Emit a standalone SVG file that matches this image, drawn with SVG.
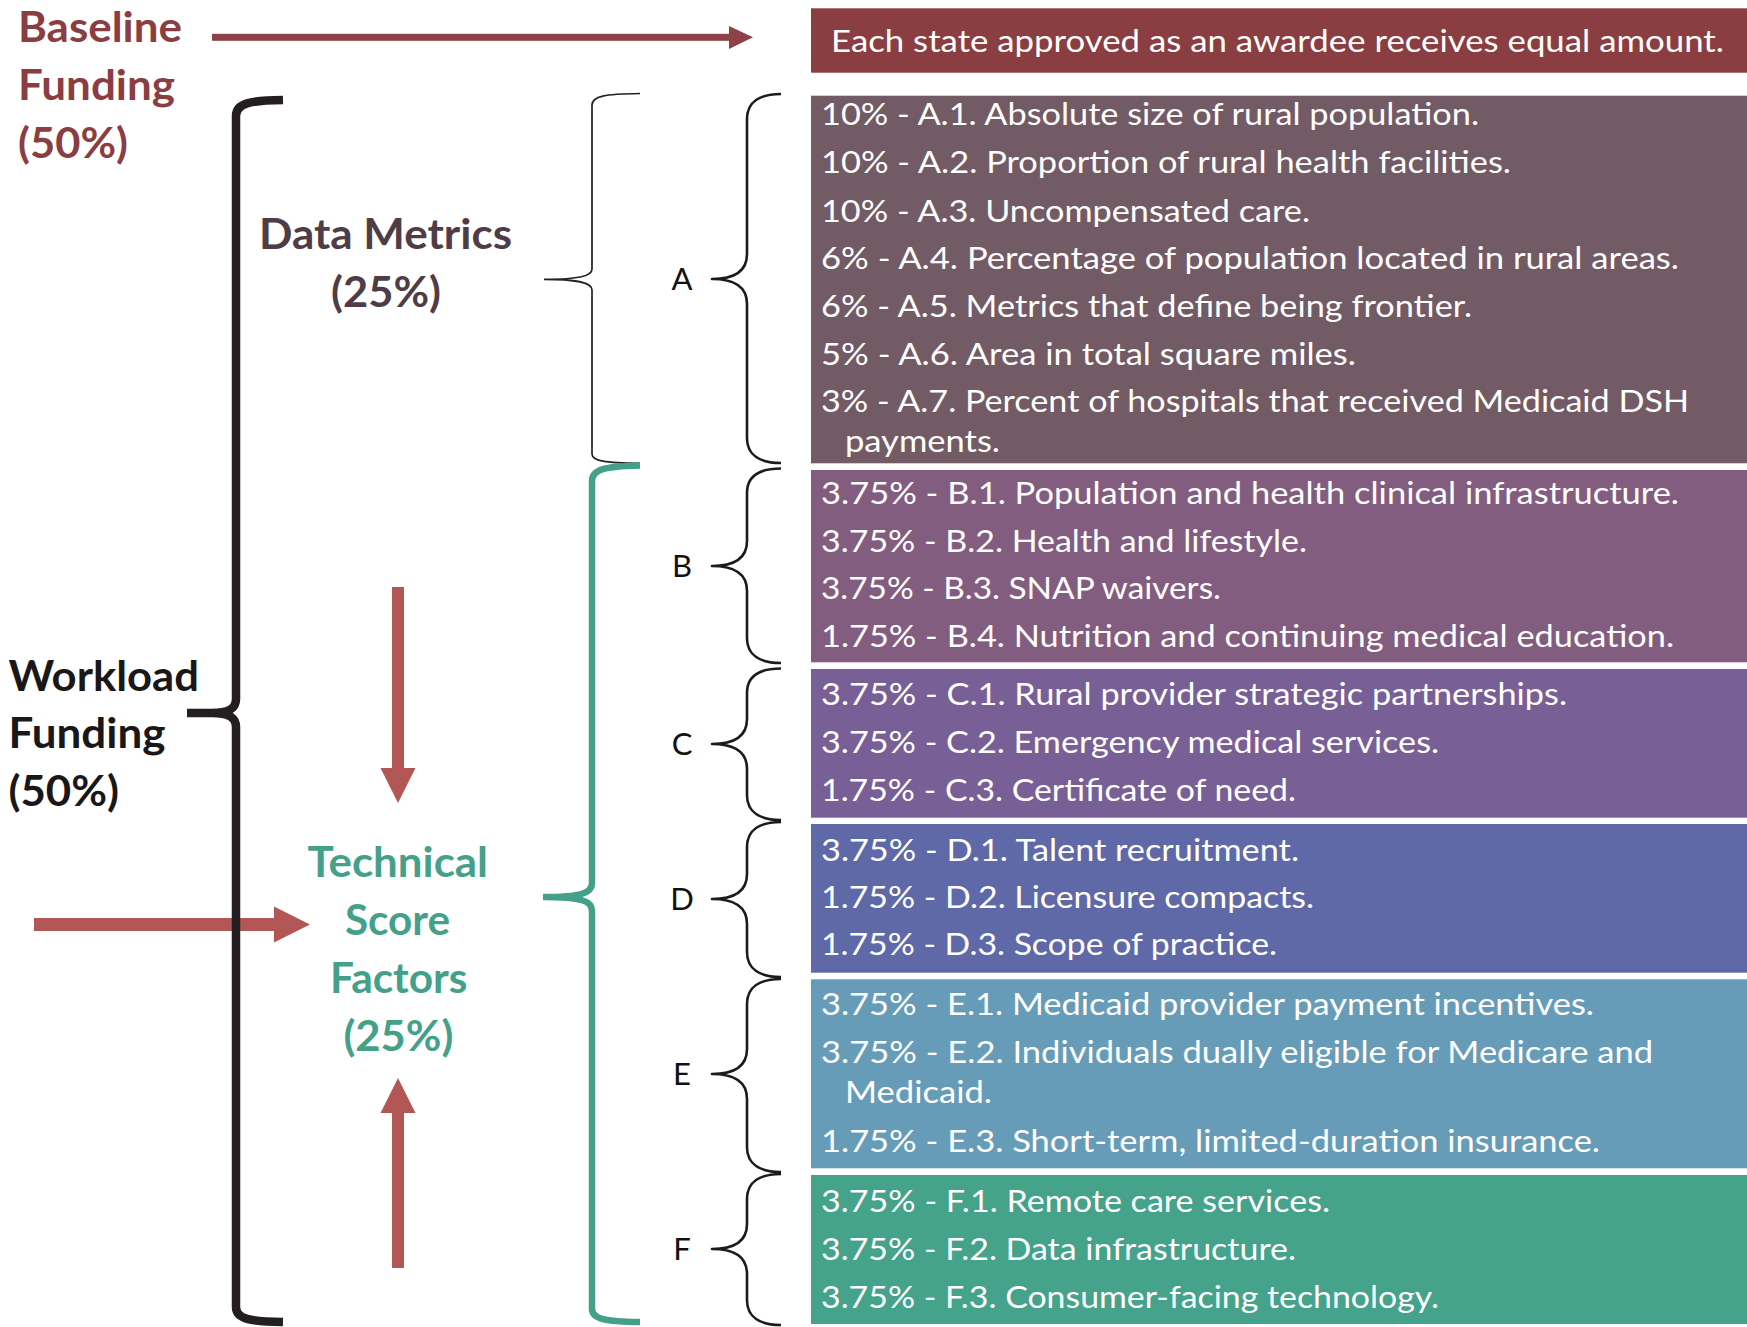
<svg xmlns="http://www.w3.org/2000/svg" width="1747" height="1327" viewBox="0 0 1747 1327">
<style>
.h{font-family:Lato,"Open Sans",sans-serif;font-weight:700;font-size:41.5px}
.t{font-family:Lato,"Open Sans",sans-serif;font-size:31px;fill:#fff}
.l{font-family:Lato,"Open Sans",sans-serif;font-size:31px;fill:#111;text-anchor:middle}
.br{fill:none;stroke:#1c1a1b;stroke-width:2.6;stroke-linejoin:round}
.red{fill:#B25756}
</style>
<rect width="1747" height="1327" fill="#fff"/>

<g id="connectors">
  <g id="baseline-arrow" fill="#8C4246">
    <rect x="212" y="33.8" width="518" height="7"/>
    <polygon points="729,26 753,37.3 729,49"/>
  </g>
  <g id="arrow-right" class="red">
    <rect x="34" y="918" width="241" height="13"/>
    <polygon points="274,906.5 310,924.5 274,942.5"/>
  </g>
  <g id="arrow-down" class="red">
    <rect x="392" y="587" width="12" height="182"/>
    <polygon points="380.5,768 415.5,768 398,803"/>
  </g>
  <g id="arrow-up" class="red">
    <rect x="392" y="1112" width="12" height="156"/>
    <polygon points="380.5,1113 415.5,1113 398,1078"/>
  </g>
  <path id="brace-workload" d="M283,100 C250,100.5 236,103 236,116 L236,699 C236,709 228,713 212,713 L187,713 L212,713 C228,713 236,717 236,727 L236,1307 C236,1319 250,1321.5 283,1322" fill="none" stroke="#231F20" stroke-width="8.5"/>
  <path id="brace-data" d="M640,93.5 C605,94 592,96 592,105 L592,269 C592,276 580,279.3 544,279.3 C580,279.3 592,283 592,290 L592,454 C592,461 605,463 640,463.3" fill="none" stroke="#222" stroke-width="1.7"/>
  <path id="brace-technical" d="M640,465.5 C605,466.5 592,469 592,481 L592,883 C592,893 582,897 543,897 C582,897 592,901 592,911 L592,1309 C592,1319 605,1321.5 640,1322" fill="none" stroke="#45A08A" stroke-width="6.5"/>
  <path class="br" d="M781,94 C760,94 747,102 747,119 L747,254 C747,271 735,279 712,279 C735,279 747,287 747,304 L747,438 C747,455 760,463 781,463"/>
  <path class="br" d="M781,468.5 C760,468.5 747,476 747,493 L747,541 C747,558 735,566 712,566 C735,566 747,574 747,591 L747,638 C747,655 760,663 781,663"/>
  <path class="br" d="M781,668.5 C760,668.5 747,676 747,693 L747,719 C747,736 735,744 712,744 C735,744 747,752 747,769 L747,795 C747,812 760,820 781,820"/>
  <path class="br" d="M781,822 C760,822 747,830 747,847 L747,874 C747,891 735,899 712,899 C735,899 747,907 747,924 L747,952 C747,969 760,977 781,977"/>
  <path class="br" d="M781,979 C760,979 747,987 747,1004 L747,1049 C747,1066 735,1074 712,1074 C735,1074 747,1082 747,1099 L747,1147 C747,1164 760,1172 781,1172"/>
  <path class="br" d="M781,1174 C760,1174 747,1182 747,1199 L747,1224 C747,1241 735,1249 712,1249 C735,1249 747,1257 747,1274 L747,1300 C747,1317 760,1325 781,1325"/>
</g>

<g id="baseline-funding">
  <text class="h" fill="#8B3E42"><tspan x="18" y="41.7" textLength="164" lengthAdjust="spacingAndGlyphs">Baseline</tspan><tspan x="18" y="99.5" textLength="157" lengthAdjust="spacingAndGlyphs">Funding</tspan><tspan x="18" y="157.5" textLength="110" lengthAdjust="spacingAndGlyphs">(50%)</tspan></text>
</g>
<g id="workload-funding">
  <text class="h" fill="#1a1718"><tspan x="8.4" y="690.7" textLength="190.6" lengthAdjust="spacingAndGlyphs">Workload</tspan><tspan x="8.4" y="748.3" textLength="157" lengthAdjust="spacingAndGlyphs">Funding</tspan><tspan x="8.4" y="806" textLength="110.6" lengthAdjust="spacingAndGlyphs">(50%)</tspan></text>
</g>
<g id="data-metrics">
  <text class="h" fill="#4E3D47"><tspan x="259" y="249.3" textLength="253" lengthAdjust="spacingAndGlyphs">Data Metrics</tspan><tspan x="331" y="306.7" textLength="110" lengthAdjust="spacingAndGlyphs">(25%)</tspan></text>
</g>
<g id="technical-score-factors">
  <text class="h" fill="#45A08A"><tspan x="307.5" y="877.3" textLength="180.5" lengthAdjust="spacingAndGlyphs">Technical</tspan><tspan x="345" y="935" textLength="105" lengthAdjust="spacingAndGlyphs">Score</tspan><tspan x="330" y="993" textLength="137.5" lengthAdjust="spacingAndGlyphs">Factors</tspan><tspan x="343.4" y="1051" textLength="110" lengthAdjust="spacingAndGlyphs">(25%)</tspan></text>
</g>

<g id="labels">
  <text class="l" x="682" y="290">A</text>
  <text class="l" x="682" y="577">B</text>
  <text class="l" x="682" y="755">C</text>
  <text class="l" x="682" y="910">D</text>
  <text class="l" x="682" y="1085">E</text>
  <text class="l" x="682" y="1260">F</text>
</g>

<g id="box-baseline">
  <rect x="811" y="8.3" width="936" height="64.4" fill="#8B3E41"/>
  <text class="t" x="831" y="52.3" textLength="893" lengthAdjust="spacingAndGlyphs">Each state approved as an awardee receives equal amount.</text>
</g>
<g id="box-A">
  <rect x="811" y="95.7" width="936" height="367.6" fill="#725B65"/>
  <text class="t"><tspan x="821" y="125" textLength="658" lengthAdjust="spacingAndGlyphs">10% - A.1. Absolute size of rural population.</tspan><tspan x="821" y="173" textLength="690" lengthAdjust="spacingAndGlyphs">10% - A.2. Proportion of rural health facilities.</tspan><tspan x="821" y="221.5" textLength="489" lengthAdjust="spacingAndGlyphs">10% - A.3. Uncompensated care.</tspan><tspan x="821" y="269" textLength="858" lengthAdjust="spacingAndGlyphs">6% - A.4. Percentage of population located in rural areas.</tspan><tspan x="821" y="316.7" textLength="651" lengthAdjust="spacingAndGlyphs">6% - A.5. Metrics that define being frontier.</tspan><tspan x="821" y="365" textLength="535" lengthAdjust="spacingAndGlyphs">5% - A.6. Area in total square miles.</tspan><tspan x="821" y="412.3" textLength="868" lengthAdjust="spacingAndGlyphs">3% - A.7. Percent of hospitals that received Medicaid DSH</tspan><tspan x="845" y="452" textLength="155" lengthAdjust="spacingAndGlyphs">payments.</tspan></text>
</g>
<g id="box-B">
  <rect x="811" y="470" width="936" height="192.3" fill="#835D80"/>
  <text class="t"><tspan x="821" y="504" textLength="858" lengthAdjust="spacingAndGlyphs">3.75% - B.1. Population and health clinical infrastructure.</tspan><tspan x="821" y="551.7" textLength="486" lengthAdjust="spacingAndGlyphs">3.75% - B.2. Health and lifestyle.</tspan><tspan x="821" y="599" textLength="400" lengthAdjust="spacingAndGlyphs">3.75% - B.3. SNAP waivers.</tspan><tspan x="821" y="646.7" textLength="853" lengthAdjust="spacingAndGlyphs">1.75% - B.4. Nutrition and continuing medical education.</tspan></text>
</g>
<g id="box-C">
  <rect x="811" y="669" width="936" height="148.7" fill="#785F96"/>
  <text class="t"><tspan x="821" y="705" textLength="746" lengthAdjust="spacingAndGlyphs">3.75% - C.1. Rural provider strategic partnerships.</tspan><tspan x="821" y="752.7" textLength="618" lengthAdjust="spacingAndGlyphs">3.75% - C.2. Emergency medical services.</tspan><tspan x="821" y="800.7" textLength="475" lengthAdjust="spacingAndGlyphs">1.75% - C.3. Certificate of need.</tspan></text>
</g>
<g id="box-D">
  <rect x="811" y="824" width="936" height="148.7" fill="#5F69A8"/>
  <text class="t"><tspan x="821" y="860.7" textLength="478" lengthAdjust="spacingAndGlyphs">3.75% - D.1. Talent recruitment.</tspan><tspan x="821" y="908.3" textLength="493" lengthAdjust="spacingAndGlyphs">1.75% - D.2. Licensure compacts.</tspan><tspan x="821" y="955" textLength="456" lengthAdjust="spacingAndGlyphs">1.75% - D.3. Scope of practice.</tspan></text>
</g>
<g id="box-E">
  <rect x="811" y="979.3" width="936" height="189" fill="#679CB8"/>
  <text class="t"><tspan x="821" y="1015" textLength="773" lengthAdjust="spacingAndGlyphs">3.75% - E.1. Medicaid provider payment incentives.</tspan><tspan x="821" y="1063.3" textLength="832" lengthAdjust="spacingAndGlyphs">3.75% - E.2. Individuals dually eligible for Medicare and</tspan><tspan x="845" y="1103.3" textLength="147" lengthAdjust="spacingAndGlyphs">Medicaid.</tspan><tspan x="821" y="1151.7" textLength="779" lengthAdjust="spacingAndGlyphs">1.75% - E.3. Short-term, limited-duration insurance.</tspan></text>
</g>
<g id="box-F">
  <rect x="811" y="1175" width="936" height="149" fill="#45A28B"/>
  <text class="t"><tspan x="821" y="1211.7" textLength="509" lengthAdjust="spacingAndGlyphs">3.75% - F.1. Remote care services.</tspan><tspan x="821" y="1260" textLength="475" lengthAdjust="spacingAndGlyphs">3.75% - F.2. Data infrastructure.</tspan><tspan x="821" y="1308.3" textLength="618" lengthAdjust="spacingAndGlyphs">3.75% - F.3. Consumer-facing technology.</tspan></text>
</g>
</svg>
